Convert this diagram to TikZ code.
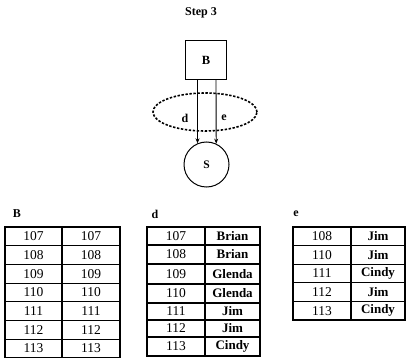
\documentclass[tikz,border=0pt]{standalone}
\usepackage{fontspec}
\setmainfont{Liberation Serif}
\usetikzlibrary{arrows.meta,shapes.geometric}
\tikzset{
  cell/.style={draw, line width=1.1pt, inner sep=0pt, font=\fontsize{13.5}{14}\selectfont},
  namecell/.style={cell, font=\fontsize{13}{14}\selectfont\bfseries},
  lbl/.style={font=\fontsize{12}{13}\selectfont\bfseries, inner sep=0pt},
  arr/.style={-{Stealth[length=5pt,width=4pt]}, line width=0.9pt}
}
\begin{document}
\begin{tikzpicture}[x=1pt,y=-1pt]
\useasboundingbox (0,0) rectangle (406,363);
% title
\node[lbl] (title) at (201,13) {Step 3};
% graph
\node[draw, line width=1pt, minimum width=41pt, minimum height=39pt, font=\fontsize{12.5}{13}\selectfont\bfseries] (B) at (206,60) {B};
\node[draw, circle, line width=1pt, minimum size=45pt, inner sep=0pt, font=\fontsize{11.5}{12}\selectfont\bfseries] (S) at (206.5,164.5) {S};
\node[draw, ellipse, line width=1.6pt, dash pattern=on 2.4pt off 1.6pt, minimum width=104pt, minimum height=38pt, inner sep=0pt] (E) at (205,112) {};
\draw[arr] ([xshift=-8.5pt]B.south) -- (S.113);
\draw[arr] ([xshift=10pt]B.south) -- (S.65);
\node[lbl] (dl) at (185,118) {d};
\node[lbl] (el) at (224,118) {e};
% table labels
\node[lbl] (tB) at (17,214) {B};
\node[lbl] (td) at (155,214) {d};
\node[lbl] (te) at (296,214) {e};
% table B
\foreach \v [count=\i] in {107,108,109,110,111,112,113} {
  \pgfmathsetmacro{\yy}{227+18.7*(\i-1)+9.35}
  \node[cell, minimum width=57pt, minimum height=18.7pt] (b\i a) at (33.5,\yy) {\v};
  \node[cell, minimum width=58pt, minimum height=18.7pt] (b\i b) at (91,\yy) {\v};
}
% table d
\foreach \v/\n/\ta/\tb [count=\i] in {107/Brian/227/245,108/Brian/245/264,109/Glenda/264/284,110/Glenda/284/303,111/Jim/303/320,112/Jim/320/337,113/Cindy/337/356} {
  \pgfmathsetmacro{\yy}{(\ta+\tb)/2}
  \pgfmathsetmacro{\hh}{\tb-\ta}
  \node[cell, minimum width=58pt, minimum height=\hh pt] (d\i a) at (176,\yy) {\v};
  \node[namecell, minimum width=55pt, minimum height=\hh pt] (d\i b) at (232.5,\yy) {\n};
}
% table e
\foreach \v/\n [count=\i] in {108/Jim,110/Jim,111/Cindy,112/Jim,113/Cindy} {
  \pgfmathsetmacro{\yy}{227+18.6*(\i-1)+9.3}
  \node[cell, minimum width=58pt, minimum height=18.6pt] (e\i a) at (322,\yy) {\v};
  \node[namecell, minimum width=54pt, minimum height=18.6pt] (e\i b) at (378,\yy) {\n};
}
\end{tikzpicture}
\end{document}
